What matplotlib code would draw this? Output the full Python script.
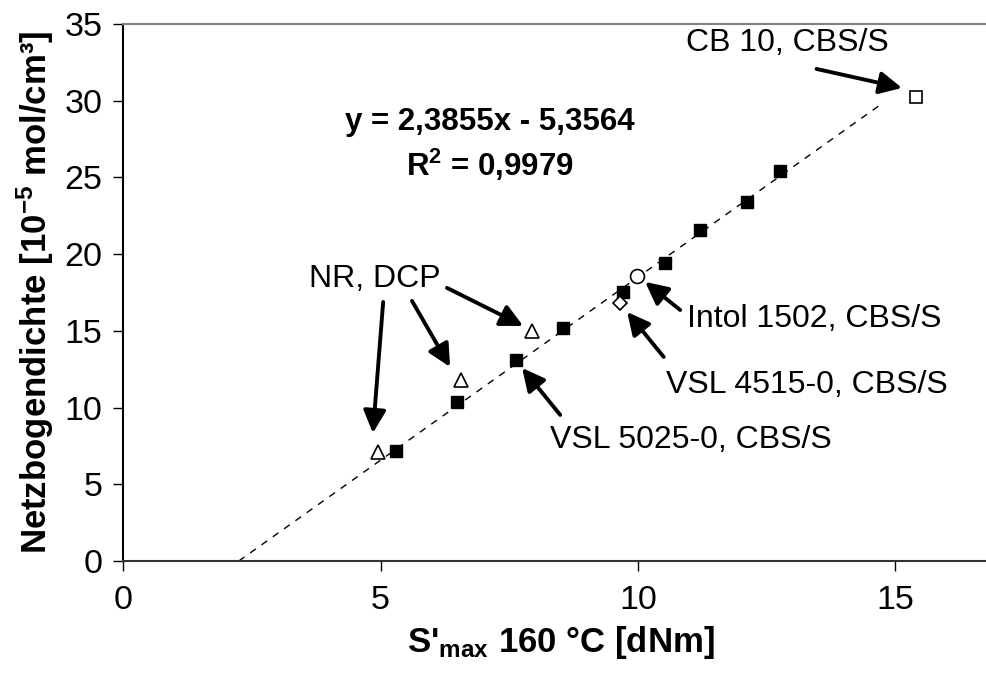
import matplotlib
matplotlib.use("Agg")
import matplotlib.pyplot as plt

plt.rcParams['font.family'] = ['Liberation Sans', 'DejaVu Sans']
plt.rcParams['mathtext.fontset'] = 'custom'
plt.rcParams['mathtext.rm'] = 'Liberation Sans'
plt.rcParams['mathtext.bf'] = 'Liberation Sans:bold'
plt.rcParams['mathtext.it'] = 'Liberation Sans:italic'

# Data
filled_x = [5.30, 6.48, 7.64, 8.54, 9.71, 10.52, 11.20, 12.11, 12.76]
filled_y = [7.17, 10.38, 13.10, 15.17, 17.52, 19.45, 21.55, 23.42, 25.42]
nr_dcp_x = [4.94, 6.57, 7.95]
nr_dcp_y = [7.13, 11.80, 15.00]
intol_x, intol_y = [9.99], [18.58]
vsl4515_x, vsl4515_y = [9.66], [16.84]
cb10_x, cb10_y = [15.41], [30.25]

slope, intercept = 2.3855, -5.3564
trend_x_end = 14.74

x_ticks = [0, 5, 10, 15]
y_ticks = [0, 5, 10, 15, 20, 25, 30, 35]

fig = plt.figure(figsize=(9.86, 6.81), dpi=100)
ax = fig.add_axes([0.1250, 0.1762, 0.8874, 0.7886])
ax.set_xlim(0, 17)
ax.set_ylim(0, 35)

# trendline
tx = [-intercept / slope, trend_x_end]
ty = [slope * v + intercept for v in tx]
ax.plot(tx, ty, color='black', lw=1.0, dashes=(5, 5), zorder=1)

ms = 9
ax.plot(filled_x, filled_y, 's', ms=ms, color='black', mec='black', zorder=3)
ax.plot(nr_dcp_x, nr_dcp_y, '^', ms=ms + 1.5, mfc='white', mec='black', mew=1.2, zorder=3, ls='none')
ax.plot(intol_x, intol_y, 'o', ms=ms + 1, mfc='white', mec='black', mew=1.2, zorder=3, ls='none')
ax.plot(vsl4515_x, vsl4515_y, 'D', ms=ms - 2, mfc='white', mec='black', mew=1.2, zorder=3, ls='none')
ax.plot(cb10_x, cb10_y, 's', ms=ms, mfc='white', mec='black', mew=1.2, zorder=3, ls='none')

fs = 23
ap = dict(arrowstyle='-|>', lw=2.8, color='black', mutation_scale=34,
          shrinkA=0, shrinkB=0)

def arrow(tail, head):
    ax.annotate('', xy=head, xytext=tail, arrowprops=ap, zorder=4)

arrow((13.47, 32.07), (15.13, 30.83))
arrow((5.05, 16.88), (4.85, 8.34))
arrow((5.61, 16.95), (6.35, 12.65))
arrow((6.29, 17.80), (7.77, 15.32))
arrow((8.49, 9.52), (7.75, 12.58))
arrow((10.50, 13.30), (9.79, 16.23))
arrow((10.82, 16.36), (10.14, 18.19))

ax.text(12.9, 33.73, 'CB 10, CBS/S', fontsize=fs, ha='center', va='center')
ax.text(4.89, 18.38, 'NR, DCP', fontsize=fs, ha='center', va='center')
ax.text(8.29, 7.89, 'VSL 5025-0, CBS/S', fontsize=fs, ha='left', va='center')
ax.text(10.55, 11.47, 'VSL 4515-0, CBS/S', fontsize=fs, ha='left', va='center')
ax.text(10.95, 15.78, 'Intol 1502, CBS/S', fontsize=fs, ha='left', va='center')

ax.text(7.12, 28.62, 'y = 2,3855x - 5,3564', fontsize=22.5, fontweight='bold',
        ha='center', va='center')
ax.text(7.12, 25.8, 'R$^{\\mathbf{2}}$ = 0,9979', fontsize=22.5, fontweight='bold',
        ha='center', va='center')

ax.set_xticks(x_ticks)
ax.set_yticks(y_ticks)
ax.set_xticklabels([str(v) for v in x_ticks])
ax.set_yticklabels([str(v) for v in y_ticks])
ax.tick_params(axis='both', labelsize=24.5, length=7, width=1, direction='out', color='black')
ax.tick_params(axis='x', pad=10)
ax.tick_params(axis='y', pad=8)

ax.spines['right'].set_visible(False)
ax.spines['top'].set_color('#808080')
ax.spines['top'].set_linewidth(1.5)
ax.spines['left'].set_linewidth(1.5)
ax.spines['bottom'].set_linewidth(1.5)
ax.spines['bottom'].set_color('#333333')

ax.set_xlabel("S'$_{\\mathbf{max}}$ 160 °C [dNm]", fontsize=25, fontweight='bold', labelpad=6)
ax.set_ylabel("Netzbogendichte [10$^{\\mathbf{-5}}$ mol/cm³]", fontsize=25, fontweight='bold', labelpad=6)

fig.savefig('out.png', dpi=100)
